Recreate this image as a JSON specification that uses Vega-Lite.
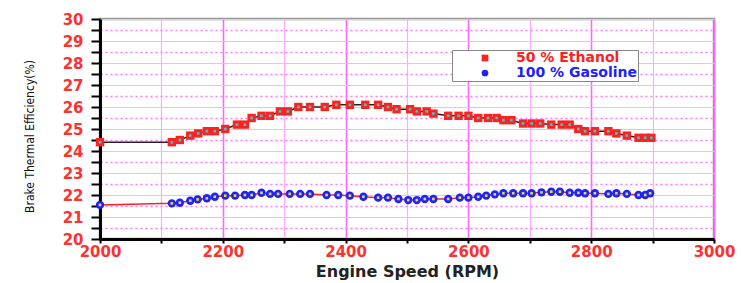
{
  "$schema": "https://vega.github.io/schema/vega-lite/v6.json",
  "width": 614,
  "height": 220,
  "autosize": {"type": "none"},
  "padding": {"left": 100, "top": 19, "right": 27, "bottom": 44},
  "background": "white",
  "config": {
    "view": {"stroke": "#999999", "strokeWidth": 2.5},
    "font": "DejaVu Sans"
  },
  "data": {
    "values": [
      {"rpm": 2000, "bte": 24.4, "fuel": "50 % Ethanol"},
      {"rpm": 2117, "bte": 24.4, "fuel": "50 % Ethanol"},
      {"rpm": 2130, "bte": 24.5, "fuel": "50 % Ethanol"},
      {"rpm": 2147, "bte": 24.7, "fuel": "50 % Ethanol"},
      {"rpm": 2160, "bte": 24.8, "fuel": "50 % Ethanol"},
      {"rpm": 2174, "bte": 24.9, "fuel": "50 % Ethanol"},
      {"rpm": 2187, "bte": 24.9, "fuel": "50 % Ethanol"},
      {"rpm": 2204, "bte": 25.0, "fuel": "50 % Ethanol"},
      {"rpm": 2223, "bte": 25.2, "fuel": "50 % Ethanol"},
      {"rpm": 2236, "bte": 25.2, "fuel": "50 % Ethanol"},
      {"rpm": 2247, "bte": 25.5, "fuel": "50 % Ethanol"},
      {"rpm": 2263, "bte": 25.6, "fuel": "50 % Ethanol"},
      {"rpm": 2277, "bte": 25.6, "fuel": "50 % Ethanol"},
      {"rpm": 2293, "bte": 25.8, "fuel": "50 % Ethanol"},
      {"rpm": 2306, "bte": 25.8, "fuel": "50 % Ethanol"},
      {"rpm": 2323, "bte": 26.0, "fuel": "50 % Ethanol"},
      {"rpm": 2342, "bte": 26.0, "fuel": "50 % Ethanol"},
      {"rpm": 2366, "bte": 26.0, "fuel": "50 % Ethanol"},
      {"rpm": 2385, "bte": 26.1, "fuel": "50 % Ethanol"},
      {"rpm": 2407, "bte": 26.1, "fuel": "50 % Ethanol"},
      {"rpm": 2432, "bte": 26.1, "fuel": "50 % Ethanol"},
      {"rpm": 2453, "bte": 26.1, "fuel": "50 % Ethanol"},
      {"rpm": 2469, "bte": 26.0, "fuel": "50 % Ethanol"},
      {"rpm": 2483, "bte": 25.9, "fuel": "50 % Ethanol"},
      {"rpm": 2505, "bte": 25.9, "fuel": "50 % Ethanol"},
      {"rpm": 2516, "bte": 25.8, "fuel": "50 % Ethanol"},
      {"rpm": 2532, "bte": 25.8, "fuel": "50 % Ethanol"},
      {"rpm": 2543, "bte": 25.7, "fuel": "50 % Ethanol"},
      {"rpm": 2567, "bte": 25.6, "fuel": "50 % Ethanol"},
      {"rpm": 2584, "bte": 25.6, "fuel": "50 % Ethanol"},
      {"rpm": 2600, "bte": 25.6, "fuel": "50 % Ethanol"},
      {"rpm": 2616, "bte": 25.5, "fuel": "50 % Ethanol"},
      {"rpm": 2632, "bte": 25.5, "fuel": "50 % Ethanol"},
      {"rpm": 2646, "bte": 25.5, "fuel": "50 % Ethanol"},
      {"rpm": 2657, "bte": 25.4, "fuel": "50 % Ethanol"},
      {"rpm": 2670, "bte": 25.4, "fuel": "50 % Ethanol"},
      {"rpm": 2689, "bte": 25.25, "fuel": "50 % Ethanol"},
      {"rpm": 2703, "bte": 25.25, "fuel": "50 % Ethanol"},
      {"rpm": 2717, "bte": 25.25, "fuel": "50 % Ethanol"},
      {"rpm": 2735, "bte": 25.2, "fuel": "50 % Ethanol"},
      {"rpm": 2752, "bte": 25.2, "fuel": "50 % Ethanol"},
      {"rpm": 2765, "bte": 25.2, "fuel": "50 % Ethanol"},
      {"rpm": 2779, "bte": 25.0, "fuel": "50 % Ethanol"},
      {"rpm": 2790, "bte": 24.9, "fuel": "50 % Ethanol"},
      {"rpm": 2806, "bte": 24.9, "fuel": "50 % Ethanol"},
      {"rpm": 2828, "bte": 24.9, "fuel": "50 % Ethanol"},
      {"rpm": 2841, "bte": 24.8, "fuel": "50 % Ethanol"},
      {"rpm": 2858, "bte": 24.7, "fuel": "50 % Ethanol"},
      {"rpm": 2877, "bte": 24.6, "fuel": "50 % Ethanol"},
      {"rpm": 2888, "bte": 24.6, "fuel": "50 % Ethanol"},
      {"rpm": 2898, "bte": 24.6, "fuel": "50 % Ethanol"},
      {"rpm": 2000, "bte": 21.55, "fuel": "100 % Gasoline"},
      {"rpm": 2117, "bte": 21.62, "fuel": "100 % Gasoline"},
      {"rpm": 2130, "bte": 21.65, "fuel": "100 % Gasoline"},
      {"rpm": 2147, "bte": 21.74, "fuel": "100 % Gasoline"},
      {"rpm": 2159, "bte": 21.8, "fuel": "100 % Gasoline"},
      {"rpm": 2174, "bte": 21.85, "fuel": "100 % Gasoline"},
      {"rpm": 2187, "bte": 21.92, "fuel": "100 % Gasoline"},
      {"rpm": 2204, "bte": 21.97, "fuel": "100 % Gasoline"},
      {"rpm": 2220, "bte": 21.97, "fuel": "100 % Gasoline"},
      {"rpm": 2236, "bte": 22.0, "fuel": "100 % Gasoline"},
      {"rpm": 2247, "bte": 22.0, "fuel": "100 % Gasoline"},
      {"rpm": 2263, "bte": 22.1, "fuel": "100 % Gasoline"},
      {"rpm": 2277, "bte": 22.05, "fuel": "100 % Gasoline"},
      {"rpm": 2290, "bte": 22.05, "fuel": "100 % Gasoline"},
      {"rpm": 2309, "bte": 22.05, "fuel": "100 % Gasoline"},
      {"rpm": 2326, "bte": 22.05, "fuel": "100 % Gasoline"},
      {"rpm": 2342, "bte": 22.05, "fuel": "100 % Gasoline"},
      {"rpm": 2369, "bte": 22.0, "fuel": "100 % Gasoline"},
      {"rpm": 2388, "bte": 22.0, "fuel": "100 % Gasoline"},
      {"rpm": 2407, "bte": 21.97, "fuel": "100 % Gasoline"},
      {"rpm": 2429, "bte": 21.92, "fuel": "100 % Gasoline"},
      {"rpm": 2453, "bte": 21.88, "fuel": "100 % Gasoline"},
      {"rpm": 2469, "bte": 21.88, "fuel": "100 % Gasoline"},
      {"rpm": 2486, "bte": 21.82, "fuel": "100 % Gasoline"},
      {"rpm": 2502, "bte": 21.77, "fuel": "100 % Gasoline"},
      {"rpm": 2516, "bte": 21.77, "fuel": "100 % Gasoline"},
      {"rpm": 2529, "bte": 21.82, "fuel": "100 % Gasoline"},
      {"rpm": 2543, "bte": 21.82, "fuel": "100 % Gasoline"},
      {"rpm": 2567, "bte": 21.82, "fuel": "100 % Gasoline"},
      {"rpm": 2586, "bte": 21.88, "fuel": "100 % Gasoline"},
      {"rpm": 2600, "bte": 21.88, "fuel": "100 % Gasoline"},
      {"rpm": 2616, "bte": 21.92, "fuel": "100 % Gasoline"},
      {"rpm": 2629, "bte": 21.97, "fuel": "100 % Gasoline"},
      {"rpm": 2643, "bte": 22.03, "fuel": "100 % Gasoline"},
      {"rpm": 2657, "bte": 22.08, "fuel": "100 % Gasoline"},
      {"rpm": 2673, "bte": 22.08, "fuel": "100 % Gasoline"},
      {"rpm": 2689, "bte": 22.08, "fuel": "100 % Gasoline"},
      {"rpm": 2703, "bte": 22.08, "fuel": "100 % Gasoline"},
      {"rpm": 2719, "bte": 22.12, "fuel": "100 % Gasoline"},
      {"rpm": 2735, "bte": 22.15, "fuel": "100 % Gasoline"},
      {"rpm": 2749, "bte": 22.15, "fuel": "100 % Gasoline"},
      {"rpm": 2765, "bte": 22.1, "fuel": "100 % Gasoline"},
      {"rpm": 2779, "bte": 22.1, "fuel": "100 % Gasoline"},
      {"rpm": 2790, "bte": 22.08, "fuel": "100 % Gasoline"},
      {"rpm": 2806, "bte": 22.08, "fuel": "100 % Gasoline"},
      {"rpm": 2828, "bte": 22.05, "fuel": "100 % Gasoline"},
      {"rpm": 2841, "bte": 22.08, "fuel": "100 % Gasoline"},
      {"rpm": 2858, "bte": 22.05, "fuel": "100 % Gasoline"},
      {"rpm": 2877, "bte": 22.0, "fuel": "100 % Gasoline"},
      {"rpm": 2888, "bte": 22.0, "fuel": "100 % Gasoline"},
      {"rpm": 2896, "bte": 22.08, "fuel": "100 % Gasoline"}
    ]
  },
  "encoding": {
    "x": {
      "field": "rpm", "type": "quantitative",
      "scale": {"domain": [2000, 3000], "nice": false, "zero": false},
      "axis": {
        "title": "Engine Speed (RPM)",
        "titleFont": "DejaVu Sans", "titleFontSize": 16, "titleFontWeight": "bold", "titleColor": "#222222",
        "titlePadding": 4,
        "values": [2000, 2100, 2200, 2300, 2400, 2500, 2600, 2700, 2800, 2900, 3000],
        "labelExpr": "datum.value % 200 == 0 ? format(datum.value, 'd') : ''",
        "labelFont": "DejaVu Sans", "labelFontSize": 15, "labelFontWeight": "bold", "labelColor": "#ff3030",
        "labelPadding": 1, "labelFlush": false,
        "domainColor": "black", "domainWidth": 3,
        "tickColor": "black", "tickWidth": 2, "tickSize": 4,
        "grid": true,
        "gridColor": {"condition": {"test": "datum.value % 200 == 0", "value": "#ff66ff"}, "value": "#ffaaff"},
        "gridWidth": {"condition": {"test": "datum.value % 200 == 0", "value": 1.6}, "value": 1.2},
        "gridOpacity": 1
      }
    },
    "y": {
      "field": "bte", "type": "quantitative",
      "scale": {"domain": [20, 30], "nice": false, "zero": false},
      "axis": {
        "title": "Brake Thermal Efficiency(%)",
        "titleFont": "Liberation Sans Narrow, DejaVu Sans Condensed, sans-serif", "titleFontSize": 12, "titleFontWeight": "normal", "titleColor": "#111111",
        "titleX": -64, "titleY": 117,
        "values": [20, 20.5, 21, 21.5, 22, 22.5, 23, 23.5, 24, 24.5, 25, 25.5, 26, 26.5, 27, 27.5, 28, 28.5, 29, 29.5, 30],
        "labelExpr": "datum.value % 1 == 0 ? format(datum.value, 'd') : ''",
        "labelFont": "DejaVu Sans", "labelFontSize": 15, "labelFontWeight": "bold", "labelColor": "#ff3030",
        "labelPadding": 8, "labelFlush": false,
        "domainColor": "black", "domainWidth": 3,
        "tickColor": "black", "tickWidth": 2,
        "tickSize": 9,
        "grid": true,
        "gridColor": {"condition": {"test": "datum.value % 1 == 0", "value": "#ffb0ff"}, "value": "#ff77ff"},
        "gridDash": {"condition": {"test": "datum.value % 1 == 0", "value": []}, "value": [2, 3]},
        "gridWidth": {"condition": {"test": "datum.value % 1 == 0", "value": 1.2}, "value": 1.5},
        "gridOpacity": 1
      }
    }
  },
  "layer": [
    {
      "transform": [{"filter": "datum.fuel == '50 % Ethanol'"}],
      "mark": {"type": "line", "strokeWidth": 1.5, "color": "#222222"},
      "encoding": {}
    },
    {
      "transform": [{"filter": "datum.fuel == '100 % Gasoline'"}],
      "mark": {"type": "line", "strokeWidth": 1.5, "color": "#ff2020"},
      "encoding": {}
    },
    {
      "mark": {"type": "point", "filled": true, "opacity": 1, "size": 70},
      "encoding": {
        "color": {
          "field": "fuel", "type": "nominal",
          "scale": {"domain": ["50 % Ethanol", "100 % Gasoline"], "range": ["#ff2020", "#2020ff"]},
          "legend": {
            "title": null,
            "orient": "none", "legendX": 352, "legendY": 31,
            "direction": "vertical",
            "fillColor": "white", "strokeColor": "#888888",
            "padding": 1, "symbolOffset": 25, "labelOffset": 24,
            "symbolSize": 45, "symbolStrokeWidth": 0,
            "labelFont": "DejaVu Sans", "labelFontSize": 14, "labelFontWeight": "bold",
            "labelColor": {"expr": "datum.label == '50 % Ethanol' ? '#ff2020' : '#2020ff'"},
            "rowPadding": 1
          }
        },
        "shape": {
          "field": "fuel", "type": "nominal",
          "scale": {"domain": ["50 % Ethanol", "100 % Gasoline"], "range": ["square", "circle"]}
        }
      }
    },
    {
      "transform": [{"filter": "datum.fuel == '50 % Ethanol'"}],
      "mark": {"type": "square", "size": 7, "opacity": 1, "color": "#33cccc"},
      "encoding": {}
    },
    {
      "transform": [{"filter": "datum.fuel == '100 % Gasoline'"}],
      "mark": {"type": "square", "size": 7, "opacity": 1, "color": "#dddd33"},
      "encoding": {}
    }
  ]
}
